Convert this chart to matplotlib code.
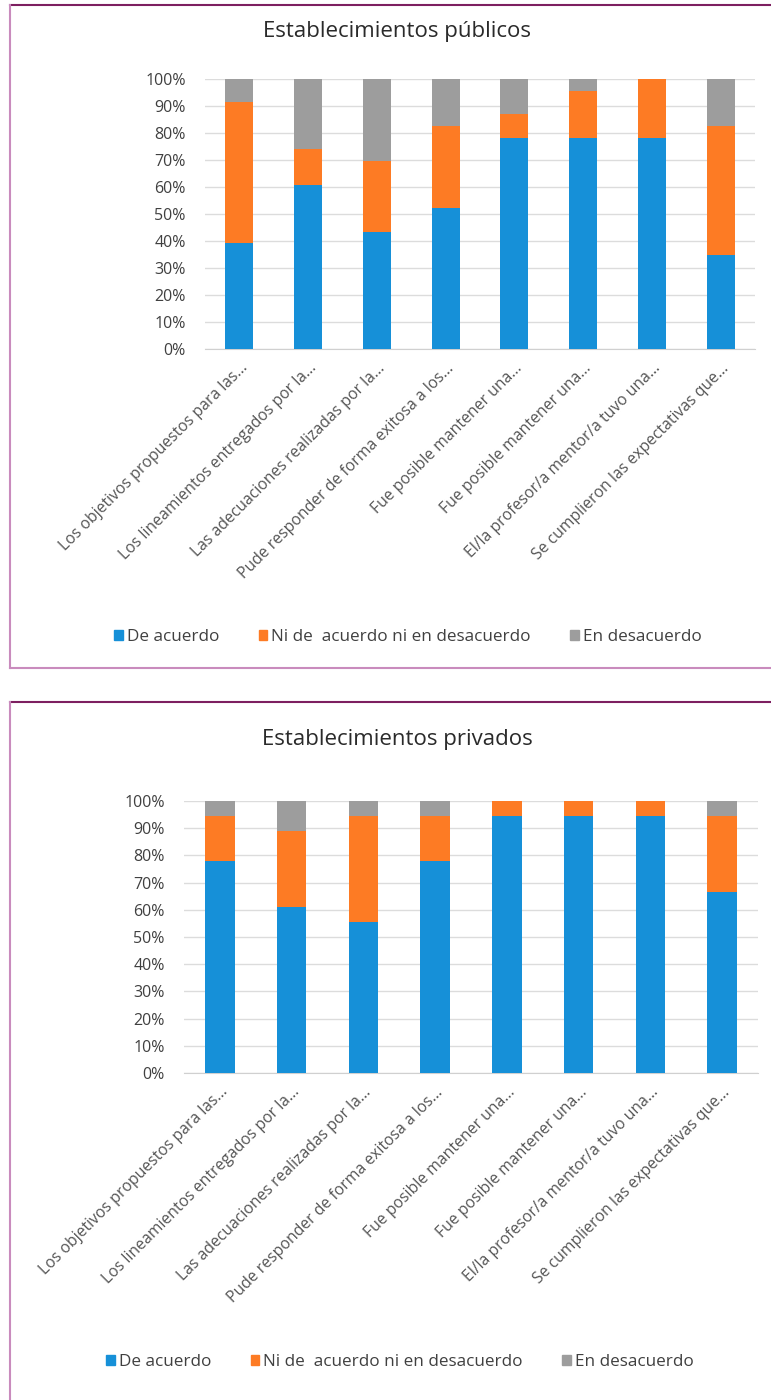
import matplotlib.pyplot as plt
from matplotlib.patches import Patch
from matplotlib.lines import Line2D

plt.rcParams['font.family'] = ['Open Sans', 'DejaVu Sans']

categorias = [
    "Los objetivos propuestos para las...",
    "Los lineamientos entregados por la...",
    "Las adecuaciones realizadas por la...",
    "Pude responder de forma exitosa a los...",
    "Fue posible mantener una...",
    "Fue posible mantener una...",
    "El/la profesor/a mentor/a tuvo una...",
    "Se cumplieron las expectativas que...",
]
series = ["De acuerdo", "Ni de  acuerdo ni en desacuerdo", "En desacuerdo"]

pub_acuerdo = [39.1, 60.9, 43.5, 52.2, 78.3, 78.3, 78.3, 34.8]
pub_ni = [52.2, 13.0, 26.1, 30.4, 8.7, 17.4, 21.7, 47.8]
pub_des = [8.7, 26.1, 30.4, 17.4, 13.0, 4.3, 0.0, 17.4]

priv_acuerdo = [77.8, 61.1, 55.6, 77.8, 94.4, 94.4, 94.4, 66.7]
priv_ni = [16.7, 27.8, 38.9, 16.7, 5.6, 5.6, 5.6, 27.8]
priv_des = [5.5, 11.1, 5.5, 5.5, 0.0, 0.0, 0.0, 5.5]

colores = ['#1690d8', '#fd7b24', '#9d9d9d']

W, H = 771, 1400
fig = plt.figure(figsize=(W / 100, H / 100), dpi=100)


def box(l, t, r, b):
    return [l / W, 1 - b / H, (r - l) / W, (b - t) / H]


def panel(rect, titulo, ty, datos, leg_x, leg_y):
    ax = fig.add_axes(rect)
    x = range(len(categorias))
    base = [0] * len(categorias)
    for vals, c in zip(datos, colores):
        ax.bar(x, vals, bottom=base, width=0.41, color=c, zorder=3)
        base = [b + v for b, v in zip(base, vals)]
    ax.set_xlim(-0.5, len(categorias) - 0.5)
    ax.set_ylim(0, 100)
    ax.set_yticks(range(0, 101, 10))
    ax.set_yticklabels([f"{v}%" for v in range(0, 101, 10)], fontsize=11.5, color='#404040')
    ax.set_xticks(list(x))
    ax.set_xticklabels(categorias, rotation=45, ha='right', rotation_mode='anchor',
                       fontsize=11.3, color='#555555')
    ax.tick_params(axis='y', length=0, pad=14)
    ax.tick_params(axis='x', length=0, pad=8)
    ax.grid(axis='y', color='#dcdcdc', lw=1, zorder=0)
    for s in ['top', 'right', 'left']:
        ax.spines[s].set_visible(False)
    ax.spines['bottom'].set_color('#d0d0d0')
    fig.text(397 / W, 1 - ty / H, titulo, ha='center', va='center', fontsize=16,
             color='#2a2a2a', fontweight='medium')
    handles = [Patch(color=c) for c in colores]
    fig.legend(handles, series, loc='center', bbox_to_anchor=(leg_x / W, 1 - leg_y / H),
               ncol=3, frameon=False, fontsize=12.3, handlelength=0.5, handleheight=0.5,
               handletextpad=0.25, columnspacing=2.3, labelcolor='#404040')


panel(box(205, 79, 755, 349), "Establecimientos públicos", 32,
      [pub_acuerdo, pub_ni, pub_des], 408, 637)
panel(box(184, 801, 758, 1073), "Establecimientos privados", 740,
      [priv_acuerdo, priv_ni, priv_des], 400, 1362)

# marcos de los paneles
dark, light = '#7d1f60', '#c98bbd'
def line(xs, ys, c):
    fig.add_artist(Line2D([v / W for v in xs], [1 - v / H for v in ys], color=c, lw=1.5))

line([10, 771], [5, 5], dark)
line([10, 10], [5, 668], light)
line([10, 771], [668, 668], light)
line([10, 771], [702, 702], dark)
line([10, 10], [702, 1400], light)

fig.savefig("out.png", dpi=100)
